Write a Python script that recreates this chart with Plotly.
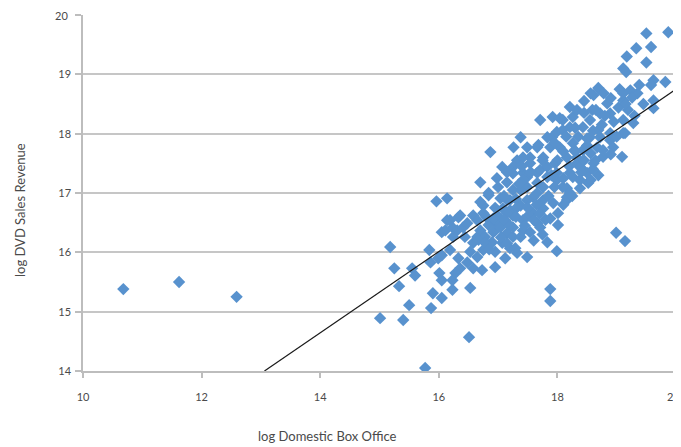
import plotly.graph_objects as go

# log Domestic Box Office (x) and log DVD Sales Revenue (y)
box_office = [
    10.68, 11.62, 12.59, 15.77, 16.51, 15.01, 15.40, 15.18, 15.25, 15.33,
    15.50, 15.87, 15.90, 16.05, 16.53, 16.23, 16.23, 16.01, 16.05, 15.55,
    15.60, 15.84, 15.86, 15.99, 16.05, 16.19, 16.33, 16.36, 16.28, 16.48,
    16.58, 16.73, 16.95, 17.12, 16.65, 16.75, 16.84, 16.95, 16.53, 16.58,
    16.65, 16.70, 16.78, 16.92, 17.08, 17.15, 17.07, 17.20, 17.32, 16.05,
    16.14, 16.23, 16.33, 16.31, 16.41, 16.44, 16.24, 16.58, 16.65, 16.75,
    16.84, 17.04, 17.08, 17.20, 17.25, 16.95, 16.84, 15.96, 16.14, 18.99,
    19.14, 17.88, 17.88, 17.99, 17.83, 18.01, 18.01, 17.49, 17.29, 18.16,
    18.38, 18.52, 19.87, 19.50, 19.58, 19.33, 19.17, 19.50, 19.11, 19.16,
    19.62, 19.82, 19.38, 19.58, 19.62, 19.35, 19.23, 19.11, 19.11, 18.69,
    18.61, 18.78, 18.84, 18.59, 18.72, 18.89, 19.03, 19.19, 19.28, 19.11,
    19.11, 18.89, 18.94, 19.09, 18.77, 18.67, 18.43, 18.55, 18.21, 18.26,
    18.09, 18.21, 18.09, 17.92, 17.91, 17.71, 17.38, 17.49, 17.26, 17.68,
    17.88, 16.87, 17.07, 16.98, 17.15, 16.70, 17.32, 17.54, 17.76, 17.96,
    18.16, 18.43, 18.55, 18.72, 18.69, 18.43, 18.21, 18.33, 17.99, 17.66,
    17.42, 17.25, 17.49, 17.76, 18.09, 19.26, 19.62, 18.69, 18.89, 18.77,
    18.56, 19.14, 18.56, 18.16, 18.16, 18.61, 18.38, 18.26, 16.84, 16.36,
    16.19, 16.11, 16.48, 16.99, 16.95, 16.67, 16.90, 17.12, 17.20, 17.38,
    17.51, 17.66, 17.42, 17.66, 17.54, 17.71, 17.49, 17.25, 17.66, 17.38,
    17.59, 17.76, 17.15, 17.25, 16.75, 16.92, 17.04, 16.78, 17.88, 17.71,
    17.54, 17.38, 17.25, 17.42, 17.59, 17.76, 17.93, 18.21, 18.38, 17.99,
    17.66, 17.49, 17.32, 17.15, 17.25, 17.42, 17.83, 18.04, 18.33, 18.56,
    17.83, 17.99, 17.42, 18.04, 18.26, 18.50, 18.33, 17.83, 18.50, 18.29,
    18.64,
    17.00, 17.10, 17.30, 17.35, 17.10, 17.20, 17.30, 17.45, 17.50, 17.60,
    17.70, 17.80, 17.65, 17.85, 17.95, 17.90, 18.10, 18.20, 18.00, 18.10,
    18.30, 18.45, 18.50, 18.35, 18.60, 18.75, 18.80, 18.65, 18.45, 18.30,
    18.15, 17.95, 17.75, 17.55, 17.40, 17.15, 16.95, 16.80, 16.70, 17.05,
    16.85, 17.15, 17.60, 17.75, 18.10, 18.25, 18.40, 18.60, 18.90, 19.00,
    18.95, 19.15, 19.05, 18.90, 18.45, 19.30, 19.45,
]
dvd_sales = [
    15.38, 15.50, 15.25, 14.05, 14.57, 14.89, 14.86, 16.09, 15.73, 15.43,
    15.11, 15.06, 15.31, 15.23, 15.40, 15.37, 15.53, 15.65, 15.53, 15.73,
    15.61, 16.04, 15.83, 15.90, 15.95, 16.04, 15.90, 15.73, 15.65, 15.83,
    15.73, 15.70, 15.75, 15.90, 15.92, 16.04, 16.12, 16.01, 16.01, 16.16,
    16.26, 16.37, 16.26, 16.34, 16.49, 16.32, 16.16, 16.07, 15.99, 16.34,
    16.54, 16.42, 16.59, 16.37, 16.42, 16.26, 16.26, 16.62, 16.54, 16.79,
    16.96, 16.91, 16.74, 16.88, 16.62, 16.51, 16.46, 16.86, 16.91, 16.33,
    16.19, 15.38, 15.18, 16.02, 16.17, 16.46, 16.66, 15.92, 16.07, 16.88,
    17.08, 17.17, 19.71, 19.69, 19.46, 19.44, 19.30, 19.20, 19.10, 19.04,
    18.90, 18.87, 18.82, 18.82, 18.56, 18.68, 18.73, 18.68, 18.56, 18.77,
    18.65, 18.68, 18.51, 18.40, 18.34, 18.34, 18.44, 18.40, 18.18, 18.23,
    18.01, 17.89, 17.77, 17.61, 17.61, 17.77, 18.11, 18.23, 18.45, 18.28,
    18.23, 18.11, 18.06, 18.28, 17.94, 18.23, 17.94, 17.77, 17.77, 17.81,
    17.77, 17.69, 17.44, 17.25, 17.18, 17.18, 17.55, 17.60, 17.60, 17.50,
    17.60, 17.72, 17.94, 17.94, 17.30, 17.39, 17.34, 17.50, 17.34, 17.34,
    17.34, 17.44, 17.10, 17.10, 17.10, 18.61, 18.43, 18.06, 18.01, 17.72,
    17.67, 18.01, 17.22, 17.08, 16.93, 17.50, 17.44, 17.27, 17.00, 16.62,
    16.54, 16.37, 16.49, 16.62, 16.37, 16.21, 16.17, 16.54, 16.71, 16.79,
    16.62, 16.49, 16.37, 17.77, 17.50, 17.39, 17.27, 17.33, 17.17, 17.05,
    16.93, 16.88, 16.88, 16.26, 16.66, 16.57, 16.42, 16.16, 16.57, 16.42,
    16.34, 16.26, 16.42, 16.54, 16.66, 16.74, 16.83, 17.00, 17.22, 17.22,
    17.00, 16.88, 16.76, 16.66, 17.05, 17.22, 17.44, 18.26, 18.40, 18.68,
    17.94, 18.03, 17.60, 17.77, 17.84, 17.92, 17.60, 17.27, 17.34, 17.72,
    17.55,
    17.10, 16.95, 16.90, 17.15, 16.55, 16.45, 16.60, 16.45, 16.75, 16.55,
    16.65, 16.55, 16.80, 16.95, 17.10, 17.30, 17.25, 17.45, 17.55, 17.70,
    17.70, 17.55, 17.80, 17.95, 18.05, 18.15, 18.30, 18.40, 18.35, 18.10,
    17.95, 17.85, 17.55, 17.35, 17.45, 17.35, 16.75, 16.60, 16.85, 16.25,
    16.05, 16.15, 16.20, 16.30, 16.80, 16.95, 17.35, 17.40, 17.65, 17.95,
    18.20, 18.50, 18.75, 18.60, 18.55, 18.30, 18.50,
]

# linear trendline endpoints
trend_x = [13.06, 20.0]
trend_y = [14.0, 18.75]

x_ticks = [10, 12, 14, 16, 18, 20]
y_ticks = [14, 15, 16, 17, 18, 19, 20]

axis_grey = "#BDBDBD"
text_grey = "#4A4A4A"
font_family = "Lato, 'Open Sans', sans-serif"

W, H = 673, 439
L, R, T, B = 75, 5, 7, 76
pw, ph = W - L - R, H - T - B

# the last tick label on each axis sits at the very edge of the figure;
# it is drawn as an annotation so that plotly does not hide it
x_ticktext = [str(v) for v in x_ticks[:-1]] + [""]
y_ticktext = [str(v) for v in y_ticks[:-1]] + [""]

fig = go.Figure()
fig.add_trace(go.Scatter(
    x=box_office, y=dvd_sales, mode="markers",
    marker=dict(symbol="diamond", size=9.5, color="#5892CE", line=dict(width=0)),
    showlegend=False, hoverinfo="x+y",
))
fig.add_trace(go.Scatter(
    x=trend_x, y=trend_y, mode="lines",
    line=dict(color="#1A1A1A", width=1.2),
    showlegend=False, hoverinfo="skip",
))

tick_font = dict(size=11, color=text_grey, family=font_family)

fig.update_layout(
    width=W, height=H,
    margin=dict(l=L, r=R, t=T, b=B),
    paper_bgcolor="white", plot_bgcolor="white",
    font=dict(family=font_family, size=11, color=text_grey),
    xaxis=dict(
        range=[10, 20], tickvals=x_ticks, ticktext=x_ticktext,
        showgrid=False, zeroline=False,
        showline=True, linecolor=axis_grey, linewidth=1.5,
        ticks="outside", ticklen=5, tickcolor=axis_grey, tickwidth=1.5,
        tickfont=tick_font, ticklabelstandoff=10,
    ),
    yaxis=dict(
        range=[14, 20], tickvals=y_ticks, ticktext=y_ticktext,
        showgrid=True, gridcolor="#C6C6C6",
        gridwidth=1.5, zeroline=False,
        showline=True, linecolor=axis_grey, linewidth=1.5,
        ticks="outside", ticklen=6, tickcolor=axis_grey, tickwidth=1.5,
        tickfont=tick_font, ticklabelstandoff=2,
    ),
    annotations=[
        dict(text="log Domestic Box Office", xref="paper", yref="paper",
             x=(327 - 83) / pw, y=-(436 - 371) / ph, xanchor="center",
             yanchor="middle", showarrow=False,
             font=dict(size=13, color=text_grey, family=font_family)),
        dict(text="log DVD Sales Revenue", xref="paper", yref="paper",
             x=-(83 - 20) / pw, y=(371 - 210) / ph, xanchor="center",
             yanchor="middle", showarrow=False, textangle=-90,
             font=dict(size=13, color=text_grey, family=font_family)),
        dict(text=str(x_ticks[-1]), xref="paper", yref="paper",
             x=(W - L) / pw, y=-25 / ph, xanchor="right", yanchor="middle",
             showarrow=False, font=tick_font, borderpad=0),
        dict(text=str(y_ticks[-1]), xref="paper", yref="y",
             x=-13 / pw, y=y_ticks[-1], xanchor="right", yanchor="middle",
             showarrow=False, font=tick_font),
    ],
)

fig.write_html("out.html")
